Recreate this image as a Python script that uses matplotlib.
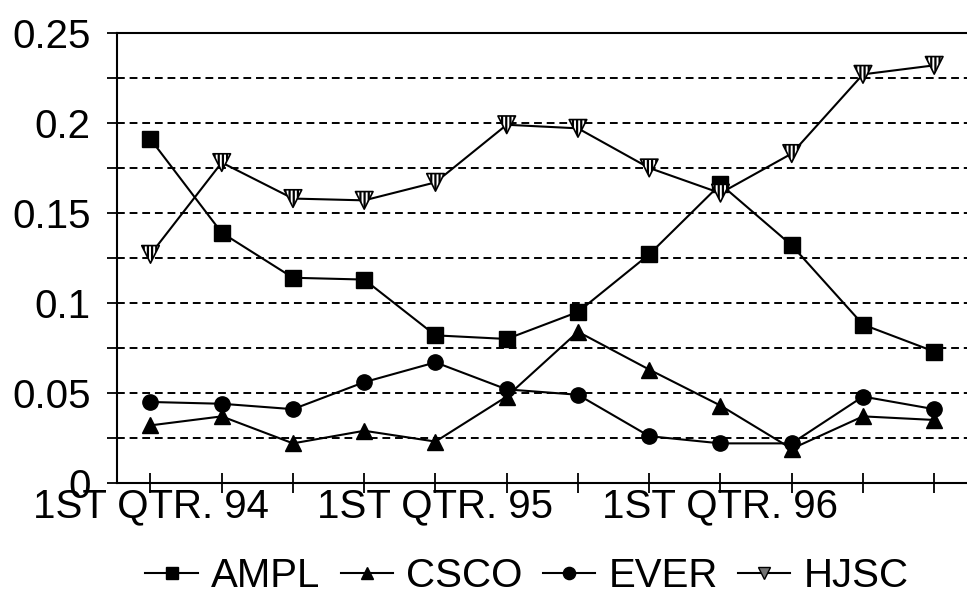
import numpy as np
import matplotlib
matplotlib.use("Agg")
from matplotlib import pyplot as plt
from matplotlib.lines import Line2D
from matplotlib.legend_handler import HandlerTuple

quarters = list(range(12))
xlabels = ['1ST QTR. 94', '', '', '', '1ST QTR. 95', '', '', '', '1ST QTR. 96', '', '', '']

ampl = [0.191, 0.139, 0.114, 0.113, 0.082, 0.080, 0.095, 0.127, 0.166, 0.132, 0.088, 0.073]
csco = [0.032, 0.037, 0.022, 0.029, 0.023, 0.048, 0.084, 0.063, 0.043, 0.019, 0.037, 0.035]
ever = [0.045, 0.044, 0.041, 0.056, 0.067, 0.052, 0.049, 0.026, 0.022, 0.022, 0.048, 0.041]
hjsc = [0.127, 0.178, 0.158, 0.157, 0.167, 0.199, 0.197, 0.175, 0.161, 0.183, 0.227, 0.232]

plt.rcParams['font.family'] = ['Liberation Sans', 'DejaVu Sans']
plt.rcParams['hatch.linewidth'] = 1.6

fig = plt.figure(figsize=(9.67, 5.99), dpi=100)
ax = fig.add_axes([0.121, 0.1937, 0.879, 0.7513])

lw = 1.5
l1, = ax.plot(quarters, ampl, 'k-', marker='s', ms=11, lw=lw, label='AMPL', zorder=3)
l2, = ax.plot(quarters, csco, 'k-', marker='^', ms=11, lw=lw, label='CSCO', zorder=3)
l3, = ax.plot(quarters, ever, 'k-', marker='o', ms=11, lw=lw, label='EVER', zorder=3)
l4, = ax.plot(quarters, hjsc, 'k-', lw=lw, zorder=3)
ax.scatter(quarters, hjsc, marker='v', s=160, facecolor='white', edgecolor='black',
           hatch='||||', linewidths=1.2, zorder=4)

# dashed gridlines every 0.025
ax.set_ylim(0, 0.25)
ax.set_yticks(np.arange(0, 0.2501, 0.05))
ax.set_yticks(np.arange(0.025, 0.25, 0.05), minor=True)
ax.set_yticklabels(['0', '0.05', '0.1', '0.15', '0.2', '0.25'])
ax.yaxis.grid(True, which='both', color='black', linestyle=(0, (4, 2.5)), lw=1.4)
ax.set_axisbelow(True)

ax.set_xlim(-0.47, 11.46)
ax.set_xticks(quarters)
ax.set_xticklabels(xlabels)

for s in ['left', 'bottom', 'top']:
    ax.spines[s].set_linewidth(1.5)
ax.spines['right'].set_visible(False)

ax.tick_params(axis='y', which='both', direction='out', length=7, width=1.3, labelsize=29, pad=12)
ax.tick_params(axis='x', direction='inout', length=14, width=1.3, labelsize=29, pad=-4)

# legend proxy for the hatched triangles
h4 = Line2D([], [], color='black', lw=lw, marker='v', ms=10, mfc='0.45', mec='black')

fig.legend([l1, l2, l3, h4], ['AMPL', 'CSCO', 'EVER', 'HJSC'],
           loc='center', bbox_to_anchor=(0.545, 0.038), ncol=4, frameon=False,
           fontsize=29, handlelength=1.3, handletextpad=0.33, columnspacing=0.5,
           markerscale=0.8)

fig.savefig('out.png', dpi=100)
